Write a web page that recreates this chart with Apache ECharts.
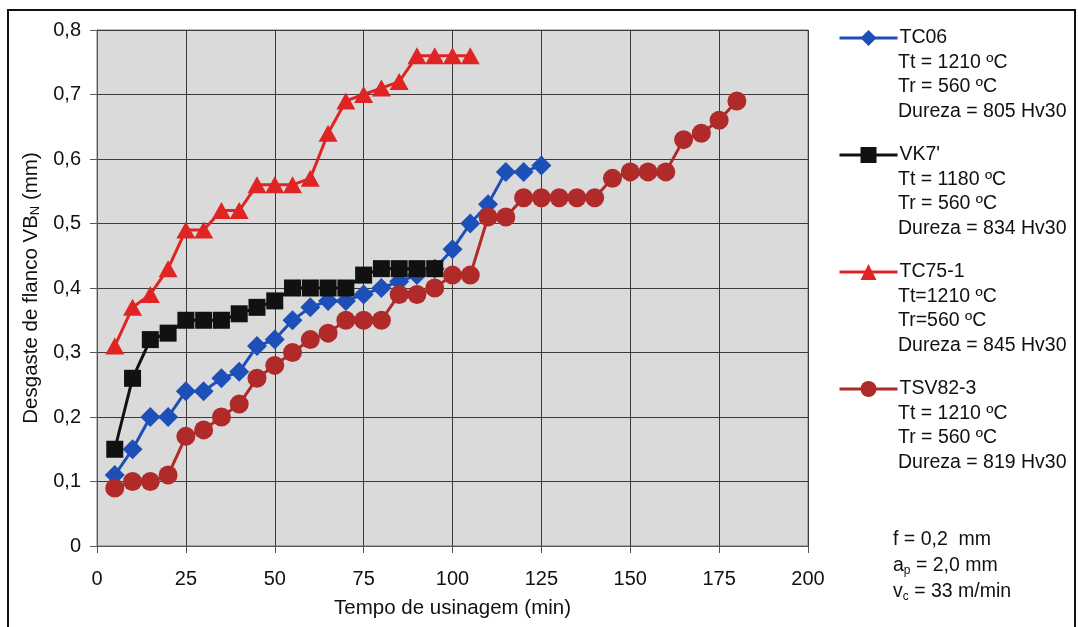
<!DOCTYPE html>
<html>
<head>
    <meta charset="utf-8">
    <title>Desgaste de flanco</title>
    <script src="https://cdn.jsdelivr.net/npm/echarts@6/dist/echarts.min.js"></script>
    <style type="text/css">
        body{margin:0;background:#fff;}
        #main{width:1078px;height:627px;}
    </style>
</head>
<body>
    <div id="main"></div>
    <script type="text/javascript">
        // tempo de usinagem (min) e desgaste VBN (mm) de cada ferramenta
        var tempoTC06 = [5,10,15,20,25,30,35,40,45,50,55,60,65,70,75,80,85,90,95,100,105,110,115,120,125];
        var vbTC06 = [0.11,0.15,0.20,0.20,0.24,0.24,0.26,0.27,0.31,0.32,0.35,0.37,0.38,0.38,0.39,0.40,0.41,0.42,0.43,0.46,0.50,0.53,0.58,0.58,0.59];

        var tempoVK7 = [5,10,15,20,25,30,35,40,45,50,55,60,65,70,75,80,85,90,95];
        var vbVK7 = [0.15,0.26,0.32,0.33,0.35,0.35,0.35,0.36,0.37,0.38,0.40,0.40,0.40,0.40,0.42,0.43,0.43,0.43,0.43];

        var tempoTC75 = [5,10,15,20,25,30,35,40,45,50,55,60,65,70,75,80,85,90,95,100,105];
        var vbTC75 = [0.31,0.37,0.39,0.43,0.49,0.49,0.52,0.52,0.56,0.56,0.56,0.57,0.64,0.69,0.70,0.71,0.72,0.76,0.76,0.76,0.76];

        var tempoTSV = [5,10,15,20,25,30,35,40,45,50,55,60,65,70,75,80,85,90,95,100,105,110,115,120,125,130,135,140,145,150,155,160,165,170,175,180];
        var vbTSV = [0.09,0.10,0.10,0.11,0.17,0.18,0.20,0.22,0.26,0.28,0.30,0.32,0.33,0.35,0.35,0.35,0.39,0.39,0.40,0.42,0.42,0.51,0.51,0.54,0.54,0.54,0.54,0.54,0.57,0.58,0.58,0.58,0.63,0.64,0.66,0.69];

        var nomes = ['TC06', "VK7'", 'TC75-1', 'TSV82-3'];
        var detalhes = [
            ['Tt = 1210 ºC', 'Tr = 560 ºC', 'Dureza = 805 Hv30'],
            ['Tt = 1180 ºC', 'Tr = 560 ºC', 'Dureza = 834 Hv30'],
            ['Tt=1210 ºC', 'Tr=560 ºC', 'Dureza = 845 Hv30'],
            ['Tt = 1210 ºC', 'Tr = 560 ºC', 'Dureza = 819 Hv30']
        ];

        function pares(xs, ys){
            var out = [];
            for(var i=0;i<xs.length;i++){ out.push([xs[i], ys[i]]); }
            return out;
        }

        var fonte = '"Liberation Sans", Arial, sans-serif';
        var myChart = echarts.init(document.getElementById('main'));

        var legendTops = [28, 145, 262, 379];
        var legendas = [];
        var textos = [];
        for(var k=0;k<nomes.length;k++){
            legendas.push({
                data: [nomes[k]],
                left: 838, top: legendTops[k], padding: 0,
                itemWidth: 58, itemHeight: 20, itemGap: 0,
                selectedMode: false,
                lineStyle: {width: 3},
                textStyle: {fontFamily: fonte, fontSize: 19.5, color: '#111', padding: [0,0,0,-3]}
            });
            textos.push({
                type: 'text', left: 898, top: legendTops[k] + 22,
                style: {text: detalhes[k].join('\n'), font: '19.5px ' + fonte, fill: '#111', lineHeight: 24.5}
            });
        }

        // moldura e parametros de corte
        textos.push({
            type: 'rect', shape: {x: 8, y: 10, width: 1067, height: 640},
            style: {fill: 'none', stroke: '#111', lineWidth: 2}, silent: true
        });
        textos.push({
            type: 'text', left: 893, top: 530,
            style: {
                text: '{a|f = 0,2  mm}\n{a|a}{s|p}{a| = 2,0 mm}\n{a|v}{s|c}{a| = 33 m/min}',
                rich: {
                    a: {font: '19.5px ' + fonte, fill: '#111', lineHeight: 26},
                    s: {font: '12px ' + fonte, fill: '#111', lineHeight: 26, padding: [10,0,0,0]}
                }
            }
        });

        var option = {
            animation: false,
            grid: {left: 97, right: 270, top: 30, bottom: 81, show: true, backgroundColor: '#dadada', borderColor: '#7a7a7a', borderWidth: 1},
            legend: legendas,
            graphic: textos,
            xAxis: {
                type: 'value', min: 0, max: 200, interval: 25,
                name: 'Tempo de usinagem (min)', nameLocation: 'middle', nameGap: 52,
                nameTextStyle: {fontFamily: fonte, fontSize: 20.5, color: '#111'},
                axisLine: {lineStyle: {color: '#555'}},
                axisTick: {show: true, length: 7, lineStyle: {color: '#555'}},
                axisLabel: {fontFamily: fonte, fontSize: 20, color: '#111', margin: 23},
                splitLine: {lineStyle: {color: '#3a3a3a', width: 1}}
            },
            yAxis: {
                type: 'value', min: 0, max: 0.8, interval: 0.1,
                name: '{a|Desgaste de flanco VB}{s|N}{a| (mm)}', nameLocation: 'middle', nameGap: 36,
                nameTextStyle: {
                    rich: {
                        a: {fontFamily: fonte, fontSize: 20.5, color: '#111', lineHeight: 22},
                        s: {fontFamily: fonte, fontSize: 13, color: '#111', lineHeight: 22, padding: [9,0,0,0]}
                    }
                },
                axisLine: {show: true, lineStyle: {color: '#555'}},
                axisTick: {show: true, length: 7, lineStyle: {color: '#555'}},
                axisLabel: {fontFamily: fonte, fontSize: 20, color: '#111', margin: 16,
                    formatter: function(v){ return v === 0 ? '0' : v.toFixed(1).replace('.', ','); }},
                splitLine: {lineStyle: {color: '#3a3a3a', width: 1}}
            },
            series: [
                {
                    name: 'TC06', type: 'line', data: pares(tempoTC06, vbTC06),
                    symbol: 'diamond', symbolSize: 20,
                    lineStyle: {color: '#1c4fb8', width: 3}, itemStyle: {color: '#1c4fb8'}
                },
                {
                    name: "VK7'", type: 'line', data: pares(tempoVK7, vbVK7),
                    symbol: 'rect', symbolSize: 17,
                    lineStyle: {color: '#111', width: 3}, itemStyle: {color: '#111'}
                },
                {
                    name: 'TC75-1', type: 'line', data: pares(tempoTC75, vbTC75),
                    symbol: 'triangle', symbolSize: [19, 17],
                    lineStyle: {color: '#e02424', width: 3}, itemStyle: {color: '#e02424'}
                },
                {
                    name: 'TSV82-3', type: 'line', data: pares(tempoTSV, vbTSV),
                    symbol: 'circle', symbolSize: 19,
                    lineStyle: {color: '#b02a2a', width: 3}, itemStyle: {color: '#b02a2a'}
                }
            ]
        };
        myChart.setOption(option);
    </script>
</body>
</html>
